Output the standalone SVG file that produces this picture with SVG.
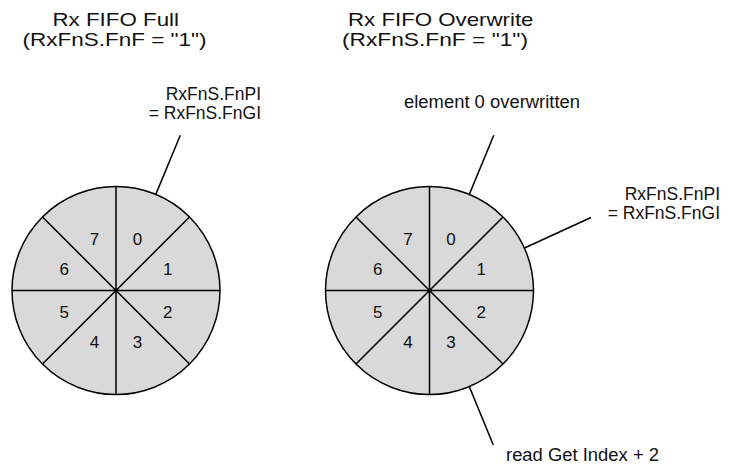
<svg xmlns="http://www.w3.org/2000/svg" width="730" height="466" viewBox="0 0 730 466">
  <style>
    .t { font-family: "Liberation Sans", Arial, sans-serif; fill: #111; }
    .title { font-size: 19px; }
    .lbl { font-size: 17.5px; }
    .dig { font-size: 17px; text-anchor: middle; }
    .disk { fill: #d9d9d9; stroke: #000; stroke-width: 1.5; }
    .div { stroke: #000; stroke-width: 1.5; fill: none; }
    .lead { stroke: #000; stroke-width: 1.5; fill: none; }
  </style>
  <rect width="730" height="466" fill="#fff"/>

  <g id="title-full">
    <text class="t title" x="52.5" y="26" textLength="126.5" lengthAdjust="spacingAndGlyphs">Rx FIFO Full</text>
    <text class="t title" x="22.5" y="46" textLength="184" lengthAdjust="spacingAndGlyphs">(RxFnS.FnF = "1")</text>
  </g>
  <g id="title-overwrite">
    <text class="t title" x="348" y="26" textLength="185.5" lengthAdjust="spacingAndGlyphs">Rx FIFO Overwrite</text>
    <text class="t title" x="342" y="46" textLength="186" lengthAdjust="spacingAndGlyphs">(RxFnS.FnF = "1")</text>
  </g>

  <g id="fifo-full">
    <circle class="disk" cx="116" cy="290.5" r="104"/>
    <path class="div" d="M116 186.5V394.5M12 290.5H220M42.5 217L189.5 364M42.5 364L189.5 217"/>
    <text class="t dig" x="137.4" y="244.8">0</text>
    <text class="t dig" x="167.7" y="275.1">1</text>
    <text class="t dig" x="167.7" y="317.9">2</text>
    <text class="t dig" x="137.4" y="348.2">3</text>
    <text class="t dig" x="94.6" y="348.2">4</text>
    <text class="t dig" x="64.3" y="317.9">5</text>
    <text class="t dig" x="64.3" y="275.1">6</text>
    <text class="t dig" x="94.6" y="244.8">7</text>
  </g>

  <g id="fifo-overwrite">
    <circle class="disk" cx="429.5" cy="290.5" r="104"/>
    <path class="div" d="M429.5 186.5V394.5M325.5 290.5H533.5M356 217L503 364M356 364L503 217"/>
    <text class="t dig" x="450.9" y="244.8">0</text>
    <text class="t dig" x="481.2" y="275.1">1</text>
    <text class="t dig" x="481.2" y="317.9">2</text>
    <text class="t dig" x="450.9" y="348.2">3</text>
    <text class="t dig" x="408.1" y="348.2">4</text>
    <text class="t dig" x="377.8" y="317.9">5</text>
    <text class="t dig" x="377.8" y="275.1">6</text>
    <text class="t dig" x="408.1" y="244.8">7</text>
  </g>

  <g id="label-full-index">
    <text class="t lbl" x="261" y="100" text-anchor="end">RxFnS.FnPI</text>
    <text class="t lbl" x="261" y="119" text-anchor="end">= RxFnS.FnGI</text>
  </g>
  <g id="label-overwritten">
    <text class="t lbl" x="404" y="108.3" textLength="176" lengthAdjust="spacingAndGlyphs">element 0 overwritten</text>
  </g>
  <g id="label-overwrite-index">
    <text class="t lbl" x="720" y="200" text-anchor="end">RxFnS.FnPI</text>
    <text class="t lbl" x="720" y="219.3" text-anchor="end">= RxFnS.FnGI</text>
  </g>
  <g id="label-read">
    <text class="t lbl" x="506" y="460.7" textLength="153" lengthAdjust="spacingAndGlyphs">read Get Index + 2</text>
  </g>

  <g id="connectors">
    <line class="lead" x1="155.8" y1="194.4" x2="180.3" y2="135.3"/>
    <line class="lead" x1="469.3" y1="194.4" x2="493.8" y2="135.3"/>
    <line class="lead" x1="524.5" y1="248" x2="591" y2="217.5"/>
    <line class="lead" x1="469.3" y1="386.6" x2="493.3" y2="445"/>
  </g>
</svg>
